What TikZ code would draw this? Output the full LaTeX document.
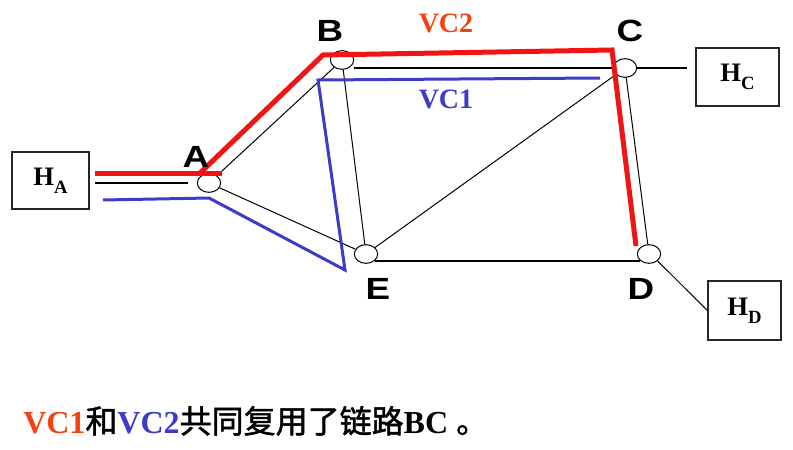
\documentclass[tikz,border=0pt]{standalone}
\usepackage{fontspec}
\setmainfont{Liberation Serif}
\newfontfamily\lsans{Liberation Sans}
\newfontfamily\cjk{Noto Sans CJK SC}[FakeBold=1.5]
\usetikzlibrary{shapes.geometric}
\definecolor{vred}{RGB}{240,20,20}
\definecolor{vorange}{RGB}{245,65,20}
\definecolor{vblue}{RGB}{60,60,200}
\tikzset{
  router/.style={ellipse, draw, fill=white, line width=0.75pt, minimum width=17.5pt, minimum height=14pt, inner sep=0pt},
  host/.style={draw=black!85, line width=0.9pt, inner sep=0pt, font=\bfseries\fontsize{20}{20}\selectfont},
  letter/.style={font=\lsans\bfseries\fontsize{23}{23}\selectfont, inner sep=0pt, xscale=1.2},
  vclabel/.style={font=\bfseries\fontsize{21}{21}\selectfont, inner sep=0pt},
  thinlink/.style={line width=0.75pt},
  boldlink/.style={line width=1.5pt},
  vctwo/.style={draw=vred, line width=3.75pt, line join=miter},
  vcone/.style={draw=vblue, line width=2.25pt, line join=miter},
}
\newcommand{\hsub}[1]{H\raisebox{-6pt}{\fontsize{14}{14}\selectfont #1}}
\begin{document}
\begin{tikzpicture}[x=0.75pt,y=-0.75pt]
\useasboundingbox (0,0) rectangle (793,450);
% hosts
\node[host, minimum width=57.75pt, minimum height=42.75pt] (HA) at (50.5,180.5) {\hsub{A}};
\node[host, minimum width=62.25pt, minimum height=43.5pt] (HC) at (737.5,77) {\hsub{C}};
\node[host, minimum width=54.75pt, minimum height=44.25pt] (HD) at (744.5,310.5) {\hsub{D}};
% routers
\node[router] (A) at (209,183) {};
\node[router] (B) at (342,60) {};
\node[router] (C) at (625,68) {};
\node[router] (D) at (649,254) {};
\node[router] (E) at (366,254) {};
% links
\draw[thinlink] (A) -- (B);
\draw[thinlink] (A) -- (E);
\draw[thinlink] (B) -- (E);
\draw[thinlink] (E) -- (C);
\draw[thinlink] (C) -- (D);
\draw[thinlink] (D.south east) -- (HD.west);
\draw[boldlink] (B.east |- C.west) -- (C.west);
\draw[boldlink] (E.south east) -- (D.south west);
\draw[boldlink, shorten >=6pt] (C.east) -- (C.east -| HC.west);
\draw[boldlink, shorten <=4pt, shorten >=7pt] (HA.east |- A.west) -- (A.west);
% virtual circuits
\coordinate (r0) at (95,173);
\coordinate (r1) at (222,173);
\coordinate (r2) at (200,173);
\coordinate (r3) at (323,55);
\coordinate (r4) at (612,50);
\coordinate (r5) at (636,246);
\draw[vctwo] (r0) -- (r1);
\draw[vctwo] (r2) -- (r3) -- (r4) -- (r5);
\coordinate (b0) at (103,200);
\coordinate (b1) at (209,198);
\coordinate (b2) at (345,270);
\coordinate (b3) at (318,80);
\coordinate (b4) at (600,78);
\draw[vcone] (b0) -- (b1) -- (b2) -- (b3) -- (b4);
% labels
\node[letter] (lA) at (196,157) {A};
\node[letter] (lB) at (330,31) {B};
\node[letter] (lC) at (630,31) {C};
\node[letter] (lD) at (641,289) {D};
\node[letter] (lE) at (378,289) {E};
\node[vclabel, text=vorange] (lvc2) at (446,23) {VC2};
\node[vclabel, text=vblue] (lvc1) at (446,99) {VC1};
% caption
\node[anchor=base west, inner sep=0pt, font=\bfseries\fontsize{24}{24}\selectfont] (cap) at (23,433)
  {\textcolor{vorange}{VC1}{\cjk\mdseries 和}\textcolor{vblue}{VC2}{\cjk\mdseries 共同复用了链路}BC {\cjk\mdseries 。}};
\end{tikzpicture}
\end{document}
